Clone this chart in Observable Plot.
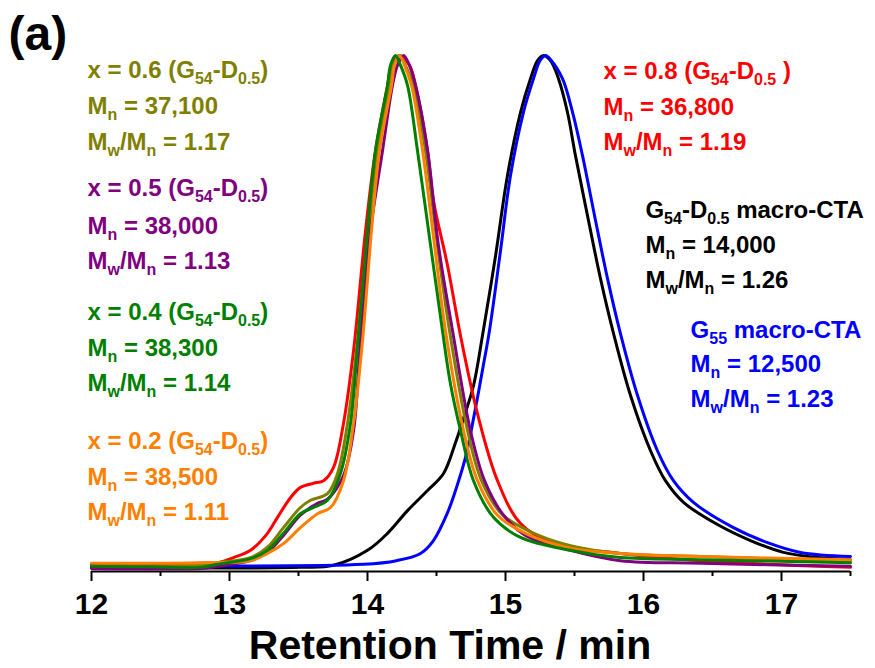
<!DOCTYPE html>
<html>
<head>
<meta charset="utf-8">
<script src="https://cdn.jsdelivr.net/npm/d3@7"></script>
<script src="https://cdn.jsdelivr.net/npm/@observablehq/plot@0.6"></script>
<style>
  html, body { margin: 0; padding: 0; background: #fff; }
  #chart { width: 875px; height: 668px; }
</style>
</head>
<body>
<div id="chart"></div>
<script>
// ---------- Data (retention time in min, normalized RI signal) ----------
const majorTicks = [12, 13, 14, 15, 16, 17];
const minorTicks = [12.5, 13.5, 14.5, 15.5, 16.5, 17.5];

const seriesNames = ["G55 macro-CTA", "G54-D0.5 macro-CTA", "x = 0.8", "x = 0.6", "x = 0.5", "x = 0.2", "x = 0.4"];

const blueCurve = [
  [12.000,0.012],[13.971,0.014],[14.210,0.021],[14.384,0.035],[14.478,0.060],[14.580,0.114],
  [14.638,0.157],[14.710,0.221],[14.775,0.306],[14.833,0.390],[14.884,0.467],[14.964,0.622],
  [15.036,0.767],[15.130,0.890],[15.203,0.955],[15.250,0.990],[15.290,1.000],[15.333,0.990],
  [15.413,0.955],[15.486,0.890],[15.558,0.806],[15.645,0.690],[15.739,0.568],[15.833,0.461],
  [15.957,0.341],[16.101,0.234],[16.217,0.176],[16.362,0.134],[16.652,0.085],[16.899,0.056],
  [17.138,0.037],[17.500,0.029]
];
const blackCurve = [
  [12.000,0.008],[13.514,0.008],[13.754,0.012],[14.000,0.041],[14.145,0.074],[14.290,0.118],
  [14.435,0.157],[14.551,0.190],[14.638,0.250],[14.696,0.297],[14.768,0.360],[14.833,0.457],
  [14.928,0.612],[15.014,0.767],[15.109,0.890],[15.181,0.955],[15.232,0.990],[15.275,1.000],
  [15.326,0.990],[15.384,0.955],[15.449,0.890],[15.507,0.806],[15.594,0.690],[15.688,0.568],
  [15.783,0.461],[15.906,0.341],[16.051,0.234],[16.159,0.176],[16.290,0.134],[16.536,0.091],
  [16.775,0.060],[17.014,0.037],[17.261,0.027],[17.500,0.023]
];
const redCurve = [
  [12.000,0.012],[12.790,0.016],[12.913,0.017],[13.029,0.027],[13.152,0.041],[13.275,0.074],
  [13.348,0.105],[13.442,0.143],[13.514,0.163],[13.609,0.171],[13.681,0.176],[13.754,0.202],
  [13.826,0.287],[13.899,0.428],[13.986,0.661],[14.058,0.816],[14.145,0.942],[14.174,0.981],
  [14.232,1.000],[14.304,0.981],[14.348,0.942],[14.435,0.816],[14.478,0.719],[14.580,0.593],
  [14.674,0.457],[14.797,0.306],[14.942,0.176],[15.109,0.093],[15.348,0.054],[15.833,0.035],
  [16.413,0.021],[17.500,0.008]
];
const oliveCurve = [
  [12.000,0.010],[12.790,0.012],[12.913,0.017],[13.152,0.027],[13.275,0.047],[13.391,0.085],
  [13.514,0.124],[13.587,0.138],[13.710,0.151],[13.783,0.190],[13.855,0.287],[13.928,0.448],
  [14.007,0.661],[14.073,0.816],[14.160,0.942],[14.188,0.981],[14.232,1.000],[14.275,0.981],
  [14.333,0.942],[14.420,0.816],[14.507,0.632],[14.594,0.467],[14.725,0.273],[14.826,0.176],
  [14.971,0.112],[15.174,0.078],[15.471,0.050],[15.833,0.035],[16.413,0.029],[17.500,0.021]
];
const purpleCurve = [
  [12.000,0.006],[12.790,0.006],[12.913,0.010],[13.152,0.021],[13.275,0.037],[13.391,0.070],
  [13.514,0.109],[13.638,0.132],[13.710,0.140],[13.826,0.186],[13.899,0.273],[13.949,0.448],
  [14.022,0.661],[14.109,0.816],[14.181,0.942],[14.217,0.981],[14.261,1.000],[14.304,0.981],
  [14.348,0.942],[14.435,0.816],[14.514,0.632],[14.616,0.467],[14.746,0.273],[14.848,0.176],
  [14.986,0.109],[15.145,0.070],[15.471,0.041],[15.833,0.021],[16.413,0.016],[17.500,0.010]
];
const orangeCurve = [
  [12.000,0.016],[12.790,0.017],[13.152,0.021],[13.275,0.035],[13.391,0.054],[13.514,0.085],
  [13.638,0.112],[13.732,0.124],[13.826,0.176],[13.899,0.287],[13.964,0.448],[14.029,0.661],
  [14.087,0.816],[14.174,0.942],[14.196,0.981],[14.232,1.000],[14.268,0.981],[14.319,0.942],
  [14.399,0.816],[14.486,0.632],[14.565,0.467],[14.696,0.273],[14.797,0.176],[14.942,0.109],
  [15.145,0.074],[15.471,0.045],[15.833,0.035],[16.413,0.029],[17.500,0.023]
];
const greenCurve = [
  [12.000,0.010],[12.428,0.009],[12.790,0.008],[12.913,0.014],[13.152,0.025],[13.275,0.041],
  [13.391,0.074],[13.514,0.112],[13.609,0.124],[13.710,0.138],[13.804,0.190],[13.877,0.287],
  [13.928,0.438],[14.000,0.661],[14.058,0.816],[14.145,0.942],[14.167,0.981],[14.203,1.000],
  [14.239,0.981],[14.290,0.942],[14.362,0.816],[14.457,0.632],[14.543,0.467],[14.601,0.364],
  [14.674,0.273],[14.768,0.176],[14.913,0.105],[15.109,0.066],[15.471,0.041],[15.833,0.027],
  [16.413,0.023],[17.500,0.017]
];

// Annotation texts ("_{...}" marks a subscript)
const oliveLabel  = ["x = 0.6 (G_{54}-D_{0.5})", "M_{n} = 37,100", "M_{w}/M_{n} = 1.17"];
const purpleLabel = ["x = 0.5 (G_{54}-D_{0.5})", "M_{n} = 38,000", "M_{w}/M_{n} = 1.13"];
const greenLabel  = ["x = 0.4 (G_{54}-D_{0.5})", "M_{n} = 38,300", "M_{w}/M_{n} = 1.14"];
const orangeLabel = ["x = 0.2 (G_{54}-D_{0.5})", "M_{n} = 38,500", "M_{w}/M_{n} = 1.11"];
const redLabel    = ["x = 0.8 (G_{54}-D_{0.5} )", "M_{n} = 36,800", "M_{w}/M_{n} = 1.19"];
const blackLabel  = ["G_{54}-D_{0.5} macro-CTA", "M_{n} = 14,000", "M_{w}/M_{n} = 1.26"];
const blueLabel   = ["G_{55} macro-CTA", "M_{n} = 12,500", "M_{w}/M_{n} = 1.23"];

const xLabel = "Retention Time / min";
const panelLabel = "(a)";

// ---------- Layout / styles ----------
const FONT = "'Liberation Sans', Arial, Helvetica, sans-serif";
const colors = {
  blue: "#0000ff", black: "#000000", red: "#ff0000", olive: "#808000",
  purple: "#800080", orange: "#ff8000", green: "#008000"
};
// annotation anchor (data coords: left x, baseline y of each line)
const labelPos = {
  olive:  {x: 11.971, y: [0.957, 0.886, 0.816]},
  purple: {x: 11.971, y: [0.727, 0.655, 0.587]},
  green:  {x: 11.971, y: [0.488, 0.417, 0.349]},
  orange: {x: 11.971, y: [0.238, 0.167, 0.099]},
  red:    {x: 15.710, y: [0.955, 0.884, 0.816]},
  black:  {x: 16.014, y: [0.686, 0.618, 0.550]},
  blue:   {x: 16.341, y: [0.453, 0.386, 0.318]}
};

const toRows = arr => arr.map(([t, v]) => ({t, v}));
const curves = [
  [blackCurve, colors.black],
  [blueCurve, colors.blue],
  [redCurve, colors.red],
  [oliveCurve, colors.olive],
  [purpleCurve, colors.purple],
  [orangeCurve, colors.orange],
  [greenCurve, colors.green]
];
const labels = [
  [oliveLabel, "olive"], [purpleLabel, "purple"], [greenLabel, "green"], [orangeLabel, "orange"],
  [redLabel, "red"], [blackLabel, "black"], [blueLabel, "blue"]
];

const lineMarks = curves.map(([c, col]) =>
  Plot.line(toRows(c), {x: "t", y: "v", stroke: col, strokeWidth: 3, curve: "catmull-rom"}));

const textMarks = labels.map(([lines, key]) =>
  Plot.text(lines.map((s, i) => ({s, x: labelPos[key].x, y: labelPos[key].y[i]})), {
    x: "x", y: "y", text: "s", fill: colors[key], fontSize: 24, fontWeight: "bold",
    textAnchor: "start", lineAnchor: "bottom"
  }));

const chart = Plot.plot({
  width: 875,
  height: 668,
  marginLeft: 91,
  marginRight: 25,
  marginTop: 55,
  marginBottom: 97,
  x: {domain: [12, 17.5]},
  y: {domain: [0, 1], axis: null},
  style: {fontFamily: FONT, background: "#fff", color: "#000", overflow: "visible"},
  marks: [
    Plot.axisX({ticks: minorTicks, tickSize: 5, tickFormat: () => "", label: null, strokeWidth: 2}),
    Plot.axisX({ticks: majorTicks, tickSize: 10, tickPadding: 11, tickFormat: d => String(d),
      label: null, fontSize: 30, fontWeight: "bold", strokeWidth: 2}),
    Plot.ruleY([0], {stroke: "#000", strokeWidth: 2}),
    ...lineMarks,
    ...textMarks,
    Plot.text([xLabel], {frameAnchor: "bottom", dy: 87, dx: -21, fontSize: 41, fontWeight: "bold",
      lineAnchor: "bottom", fill: "#000"}),
    Plot.text([panelLabel], {frameAnchor: "top-left", dx: -83, dy: -6, fontSize: 48, fontWeight: "bold",
      textAnchor: "start", lineAnchor: "bottom", fill: "#000"})
  ]
});

// subscript rendering: convert "_{...}" into shifted, smaller tspans
function applySubs(svg) {
  const NS = "http://www.w3.org/2000/svg";
  svg.querySelectorAll("text").forEach(t => {
    const s = t.textContent;
    if (!s.includes("_{")) return;
    while (t.firstChild) t.removeChild(t.firstChild);
    const re = /_\{([^}]*)\}/g;
    let last = 0, m, shifted = false;
    const addNormal = str => {
      const ts = document.createElementNS(NS, "tspan");
      ts.textContent = str;
      if (shifted) ts.setAttribute("dy", "-6");
      shifted = false;
      t.appendChild(ts);
    };
    while ((m = re.exec(s))) {
      if (m.index > last) addNormal(s.slice(last, m.index));
      const sub = document.createElementNS(NS, "tspan");
      sub.textContent = m[1];
      sub.setAttribute("font-size", "16");
      if (!shifted) sub.setAttribute("dy", "6");
      shifted = true;
      t.appendChild(sub);
      last = re.lastIndex;
    }
    if (last < s.length) addNormal(s.slice(last));
  });
}
applySubs(chart);
document.getElementById("chart").appendChild(chart);
</script>
</body>
</html>
